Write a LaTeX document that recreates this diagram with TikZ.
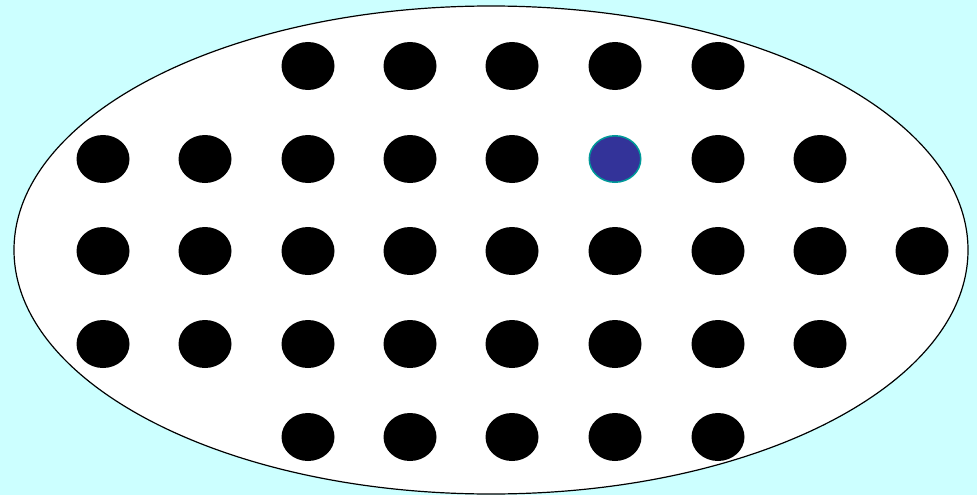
\documentclass[tikz,border=0pt]{standalone}
\usepackage{tikz}
\definecolor{bgcyan}{HTML}{CCFFFF}
\definecolor{dotblue}{HTML}{333399}
\definecolor{dotteal}{HTML}{009999}
\begin{document}
\begin{tikzpicture}[x=1pt,y=-1pt,
  dot/.style={fill=black,draw=none,ellipse,minimum width=53pt,minimum height=48pt,inner sep=0pt},
  bluedot/.style={fill=dotblue,draw=dotteal,line width=1.5pt,ellipse,minimum width=51.5pt,minimum height=46.5pt,inner sep=0pt}]
\usetikzlibrary{shapes.geometric}
\fill[bgcyan] (0,0) rectangle (977,495);
\useasboundingbox (0,0) rectangle (977,495);
\node[draw=black,line width=1.2pt,fill=white,ellipse,minimum width=954pt,minimum height=488pt,inner sep=0pt] (outer) at (491,250) {};
% row 1
\foreach \x/\n in {308/3,410/4,512/5,615/6,718/7}
  \node[dot] (r1c\n) at (\x,66) {};
% row 2
\foreach \x/\n in {103/1,205/2,308/3,410/4,512/5,718/7,820/8}
  \node[dot] (r2c\n) at (\x,159) {};
\node[bluedot] (r2c6) at (615,159) {};
% row 3
\foreach \x/\n in {103/1,205/2,308/3,410/4,512/5,615/6,718/7,820/8,922/9}
  \node[dot] (r3c\n) at (\x,251) {};
% row 4
\foreach \x/\n in {103/1,205/2,308/3,410/4,512/5,615/6,718/7,820/8}
  \node[dot] (r4c\n) at (\x,344) {};
% row 5
\foreach \x/\n in {308/3,410/4,512/5,615/6,718/7}
  \node[dot] (r5c\n) at (\x,437) {};
\end{tikzpicture}
\end{document}
